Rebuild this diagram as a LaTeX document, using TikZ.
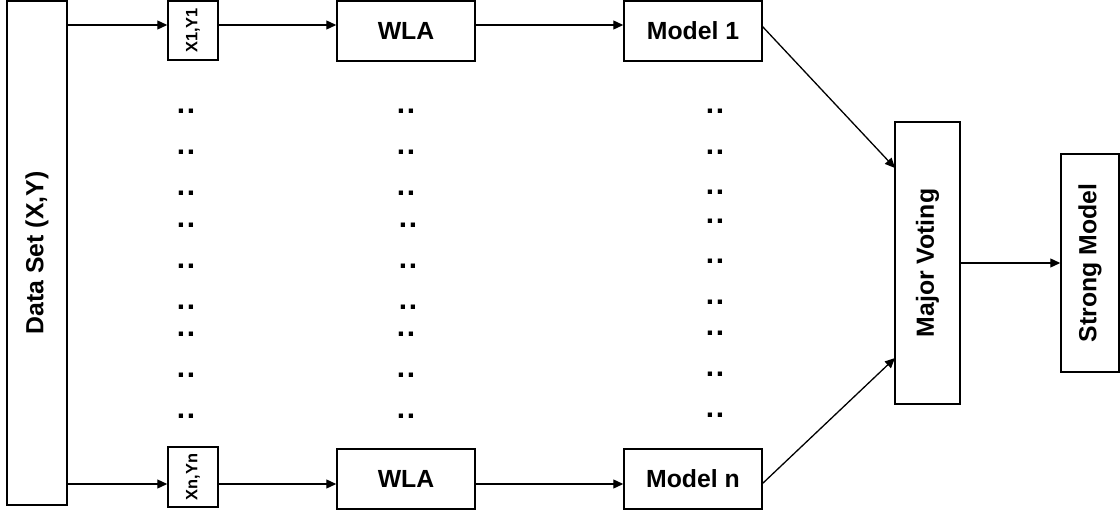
\documentclass[tikz,border=0pt]{standalone}
\usepackage{fontspec}
\setmainfont{Liberation Sans}
\usetikzlibrary{arrows.meta}
\begin{document}
\begin{tikzpicture}[x=0.5pt,y=-0.5pt,
  box/.style={draw=black,line width=0.75pt,fill=white,inner sep=0pt,
    font=\fontsize{12.4}{14}\selectfont\bfseries},
  pairbox/.style={box,font=\fontsize{8.2}{10}\selectfont\bfseries},
  link/.style={line width=0.65pt,-{Triangle[length=5pt,width=4.5pt]}},
  dots/.style={inner sep=0pt,font=\fontsize{15}{16}\selectfont\bfseries}]
\useasboundingbox (0,0) rectangle (1120,514);

% input data and sampled subsets
\node[box,minimum width=30pt,minimum height=252pt] (data) at (37,253) {\rotatebox{90}{Data Set (X,Y)}};
\node[pairbox,minimum width=25pt,minimum height=29.5pt] (x1) at (193,30.5) {\rotatebox{90}{X1,Y1}};
\node[pairbox,minimum width=25pt,minimum height=30pt] (xn) at (193,477) {\rotatebox{90}{Xn,Yn}};

% weak learners and trained models
\node[box,minimum width=69pt,minimum height=30pt] (wla1) at (406,31) {WLA};
\node[box,minimum width=69pt,minimum height=30pt] (wlan) at (406,479) {WLA};
\node[box,minimum width=69pt,minimum height=30pt] (m1) at (693,31) {Model 1};
\node[box,minimum width=69pt,minimum height=30pt] (mn) at (693,479) {Model n};

% aggregation
\node[box,minimum width=32.5pt,minimum height=141pt] (mv) at (927.5,263) {\rotatebox{90}{Major Voting}};
\node[box,minimum width=29pt,minimum height=109pt] (sm) at (1090,263) {\rotatebox{90}{Strong Model}};

% rows of the two arrow chains
\coordinate (rtop) at (0,25);
\coordinate (rbot) at (0,484);

\draw[link] (data.east |- rtop) -- (x1.west |- rtop);
\draw[link] (x1.east |- rtop) -- (wla1.west |- rtop);
\draw[link] (wla1.east |- rtop) -- (m1.west |- rtop);
\draw[link] (data.east |- rbot) -- (xn.west |- rbot);
\draw[link] (xn.east |- rbot) -- (wlan.west |- rbot);
\draw[link] (wlan.east |- rbot) -- (mn.west |- rbot);

\coordinate (m1out) at (762,26);
\coordinate (mnout) at (762,484);
\coordinate (mvin1) at (895,168);
\coordinate (mvin2) at (895,358);
\draw[link] (m1out) -- (mvin1);
\draw[link] (mnout) -- (mvin2);
\draw[link] (mv.east) -- (sm.west);

% ellipsis columns between the first and last chain
\foreach \y [count=\i] in {108,149,190,222,263,304,331,372,413} {
  \node[dots] (da\i) at (186,\y+3) {.\kern0.8pt.};
}
\foreach \y/\dx [count=\i] in {108/0,149/0,190/0,222/2,263/2,304/2,331/0,372/0,413/0} {
  \node[dots] (db\i) at (406+\dx,\y+3) {.\kern0.8pt.};
}
\foreach \y [count=\i] in {108,149,189,218,258,299,330,371,412} {
  \node[dots] (dc\i) at (715,\y+3) {.\kern0.8pt.};
}
\end{tikzpicture}
\end{document}
